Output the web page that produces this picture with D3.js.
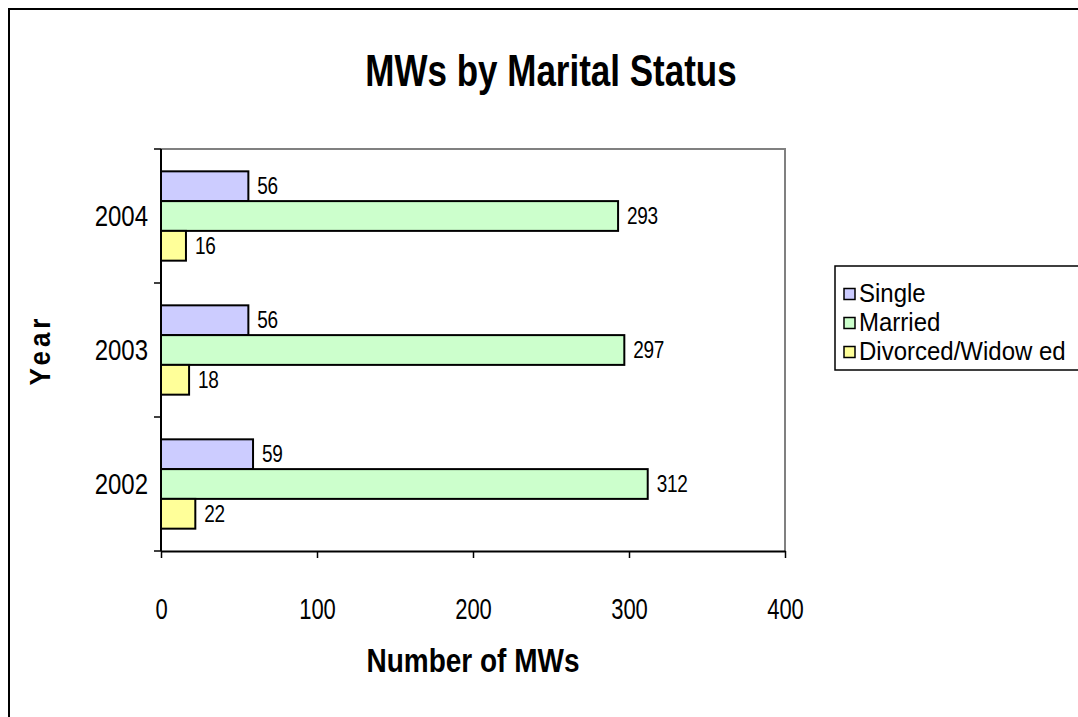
<!DOCTYPE html>
<html>
<head>
<meta charset="utf-8">
<script src="https://cdn.jsdelivr.net/npm/d3@7"></script>
<style>
  html, body { margin: 0; padding: 0; background: #fff; }
  svg { display: block; }
  text { font-family: "Liberation Sans", Arial, sans-serif; fill: #000; }
</style>
</head>
<body>
<svg id="chart" width="1078" height="717"></svg>
<script>
// ---- data ----
const years = ["2004", "2003", "2002"];
const seriesNames = ["Single", "Married", "Divorced/Widow ed"];
const single = [56, 56, 59];
const married = [293, 297, 312];
const divorced = [16, 18, 22];
const xTicks = [0, 100, 200, 300, 400];
const colors = ["#CCCCFF", "#CCFFCC", "#FFFF99"];

const seriesValues = [single, married, divorced];

const svg = d3.select("#chart");
const W = 1078, H = 717;

// helper: place text at (x,y) with vertical stretch
function stretched(sel, x, y, sy) {
  return sel.attr("x", 0).attr("y", 0).attr("transform", `translate(${x},${y}) scale(1,${sy})`);
}

// outer chart border
svg.append("rect").attr("x", 9).attr("y", 9).attr("width", W + 20).attr("height", H + 20)
  .attr("fill", "#fff").attr("stroke", "#000").attr("stroke-width", 2);

const plot = { left: 161, right: 785, top: 149, bottom: 551 };

const x = d3.scaleLinear().domain([0, 400]).range([plot.left, plot.right]);
const y = d3.scaleBand().domain(years).range([plot.top, plot.bottom]).paddingInner(0).paddingOuter(0);
const inner = d3.scaleBand().domain(d3.range(seriesNames.length))
  .range([0, y.bandwidth()]).paddingOuter(0.75).paddingInner(0);

// plot area border (top/right gray)
svg.append("path")
  .attr("d", `M${plot.left},${plot.top}H${plot.right}V${plot.bottom}`)
  .attr("fill", "none").attr("stroke", "#808080").attr("stroke-width", 2);

// bars
const g = svg.append("g");
seriesValues.forEach((vals, si) => {
  g.selectAll(null).data(years).enter().append("rect")
    .attr("x", x(0))
    .attr("y", (d) => y(d) + inner(si))
    .attr("width", (d, i) => x(vals[i]) - x(0))
    .attr("height", inner.bandwidth())
    .attr("fill", colors[si])
    .attr("stroke", "#000").attr("stroke-width", 2);
  g.selectAll(null).data(years).enter().append("text")
    .each(function (d, i) {
      stretched(d3.select(this), x(vals[i]) + 9, y(d) + inner(si) + inner.bandwidth() / 2 + 8, 1.25);
    })
    .attr("font-size", 19)
    .attr("letter-spacing", -0.3)
    .text((d, i) => vals[i]);
});

// x axis
const xAxis = d3.axisBottom(x).tickValues(xTicks).tickSize(7).tickSizeOuter(0).tickPadding(20);
const xg = svg.append("g").attr("transform", `translate(0,${plot.bottom})`).call(xAxis);
xg.select(".domain").attr("stroke", "#000").attr("stroke-width", 2);
xg.selectAll(".tick line").attr("stroke", "#000").attr("stroke-width", 1.5);
xg.selectAll(".tick text")
  .attr("font-size", 22).attr("font-family", "Liberation Sans, Arial, sans-serif").attr("fill", "#000")
  .attr("dy", null)
  .attr("transform", "translate(0,68) scale(1,1.3)").attr("y", 0);

// y axis: ticks at band boundaries
const yg = svg.append("g").attr("transform", `translate(${plot.left},0)`);
yg.append("line").attr("x1", 0).attr("x2", 0).attr("y1", plot.top).attr("y2", plot.bottom)
  .attr("stroke", "#000").attr("stroke-width", 2);
const boundaries = years.map((d) => y(d)).concat([plot.bottom]);
yg.selectAll(null).data(boundaries).enter().append("line")
  .attr("x1", -7).attr("x2", 0).attr("y1", (d) => d).attr("y2", (d) => d)
  .attr("stroke", "#000").attr("stroke-width", 1.5);
yg.selectAll(null).data(years).enter().append("text")
  .each(function (d) { stretched(d3.select(this), -13, y(d) + y.bandwidth() / 2 + 10, 1.2); })
  .attr("text-anchor", "end").attr("font-size", 24)
  .text((d) => d);

// title
stretched(svg.append("text"), 551, 86, 1.25)
  .attr("text-anchor", "middle")
  .attr("font-size", 35).attr("font-weight", "bold")
  .text("MWs by Marital Status");

// x title
stretched(svg.append("text"), 473, 672, 1.2)
  .attr("text-anchor", "middle")
  .attr("font-size", 28).attr("font-weight", "bold")
  .text("Number of MWs");

// y title
svg.append("text").attr("transform", "translate(50,350) rotate(-90) scale(1,1.15)")
  .attr("text-anchor", "middle").attr("font-size", 26).attr("font-weight", "bold")
  .attr("letter-spacing", 4)
  .text("Year");

// legend
const lg = svg.append("g");
lg.append("rect").attr("x", 835).attr("y", 266).attr("width", 300).attr("height", 104)
  .attr("fill", "#fff").attr("stroke", "#000").attr("stroke-width", 1.5);
seriesNames.forEach((name, i) => {
  const cy = 294 + i * 29;
  lg.append("rect").attr("x", 844).attr("y", cy - 5.5).attr("width", 11).attr("height", 11)
    .attr("fill", colors[i]).attr("stroke", "#000").attr("stroke-width", 1.5);
  stretched(lg.append("text"), 859, cy + 8, 1.1)
    .attr("font-size", 24).attr("letter-spacing", 0).text(name);
});
</script>
</body>
</html>
